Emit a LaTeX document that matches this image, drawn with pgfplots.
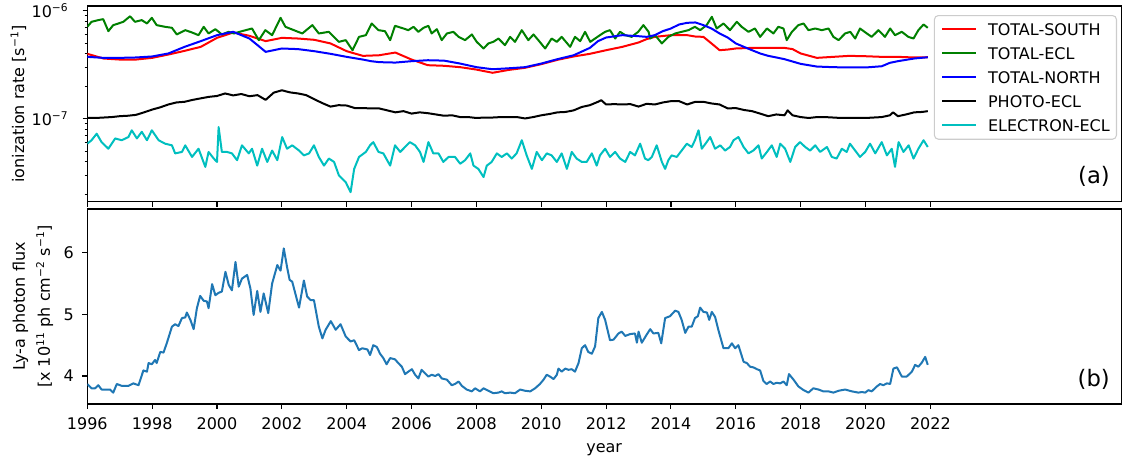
\documentclass[12pt,border=0pt]{standalone}
\usepackage{fontspec}
\setmainfont{DejaVu Sans}
\usepackage{pgfplots}
\pgfplotsset{compat=1.18}
\definecolor{mplred}{rgb}{1,0,0}
\definecolor{mplgreen}{rgb}{0,0.5,0}
\definecolor{mplblue}{rgb}{0,0,1}
\definecolor{mplcyan}{rgb}{0,0.75,0.75}
\definecolor{tabblue}{HTML}{1F77B4}
\begin{document}
\begin{tikzpicture}
\pgfplotsset{
  base/.style={scale only axis, width=775.3pt, xmin=1996, xmax=2027.88,
    tick align=outside, tick pos=left, major tick length=3.6pt, minor tick length=2.1pt,
    axis line style={line width=0.8pt}, every tick/.style={black, line width=0.8pt},
    xtick={1996,1998,...,2022},
    /pgf/number format/assume math mode=true, /pgf/number format/1000 sep={},
    xticklabel style={yshift=-2.2pt}, yticklabel style={xshift=-2.4pt},
    every axis plot/.append style={line width=1.5pt, line join=round}},
}
\begin{axis}[base, name=top, at={(0,0)}, anchor=north west, height=146.8pt,
  ymode=log, ymin=1.714e-8, ymax=1.107e-6, xticklabels={},
  ytick={1e-7,1e-6}, yticklabels={10\textsuperscript{−7},10\textsuperscript{−6}},
  yticklabel style={xshift=-4pt},
  minor ytick={2e-8,3e-8,4e-8,5e-8,6e-8,7e-8,8e-8,9e-8,2e-7,3e-7,4e-7,5e-7,6e-7,7e-7,8e-7,9e-7},
  ylabel={ionization rate [s\textsuperscript{−1}]},
  ylabel style={at={(axis description cs:-0.0667,0.5)}, anchor=center},
  legend style={at={(axis description cs:0.9961,0.954)}, anchor=north east, draw=black!20,
    rounded corners=3pt, fill=white, fill opacity=0.8, text opacity=1, line width=0.8pt,
    row sep=9.25pt, column sep=8.25pt, inner xsep=5pt, inner ysep=6pt,
    nodes={text height=8.75pt, text depth=0pt, inner ysep=0pt, inner xsep=0pt}},
  legend cell align=left,
  legend image code/.code={\draw[#1, line width=1.5pt] (0pt,0pt) -- (25.5pt,0pt);}]
\addplot[mplred] coordinates {(1996.0,4.0e-7)(1996.5,3.62e-7)(1997.0,3.54e-7)(1997.5,3.54e-7)(1998.0,3.67e-7)(1998.5,3.94e-7)(1999.0,4.26e-7)(1999.5,4.64e-7)(2000.0,5.62e-7)(2000.5,6.30e-7)(2001.0,5.87e-7)(2001.5,5.24e-7)(2002.0,5.62e-7)(2002.5,5.54e-7)(2003.0,5.39e-7)(2003.5,4.99e-7)(2004.0,4.23e-7)(2004.5,3.83e-7)(2005.0,3.88e-7)(2005.5,4.11e-7)(2006.0,3.54e-7)(2006.5,3.14e-7)(2007.0,3.10e-7)(2007.5,3.01e-7)(2008.0,2.86e-7)(2008.5,2.67e-7)(2009.0,2.84e-7)(2009.5,2.97e-7)(2010.0,3.21e-7)(2010.5,3.52e-7)(2011.0,3.78e-7)(2011.5,4.00e-7)(2012.0,4.32e-7)(2012.5,4.64e-7)(2013.0,5.09e-7)(2013.25,5.47e-7)(2013.5,5.74e-7)(2014.0,5.95e-7)(2014.5,5.95e-7)(2014.75,5.78e-7)(2015.0,5.74e-7)(2015.25,4.99e-7)(2015.5,4.32e-7)(2015.75,4.38e-7)(2016.0,4.48e-7)(2016.5,4.54e-7)(2017.0,4.54e-7)(2017.5,4.54e-7)(2017.75,4.42e-7)(2018.0,4.03e-7)(2018.5,3.67e-7)(2019.0,3.75e-7)(2019.5,3.83e-7)(2020.0,3.80e-7)(2020.5,3.75e-7)(2021.0,3.75e-7)(2021.5,3.70e-7)(2021.92,3.72e-7)};
\addlegendentry{TOTAL-SOUTH}
\addplot[mplgreen] coordinates {(1996.00,7.11e-7)(1996.13,7.91e-7)(1996.34,8.2e-7)(1996.49,8.37e-7)(1996.65,6.48e-7)(1996.80,7.37e-7)(1996.96,7.63e-7)(1997.11,7.91e-7)(1997.32,8.9e-7)(1997.47,7.91e-7)(1997.68,8.2e-7)(1997.84,7.63e-7)(1997.99,8.61e-7)(1998.14,7.37e-7)(1998.40,7.11e-7)(1998.61,6.96e-7)(1998.76,6.04e-7)(1999.02,6.62e-7)(1999.23,6.30e-7)(1999.43,5.95e-7)(1999.59,7.11e-7)(1999.74,6.17e-7)(1999.95,6.76e-7)(2000.15,6.04e-7)(2000.36,6.39e-7)(2000.52,6.17e-7)(2000.77,6.48e-7)(2001.08,6.86e-7)(2001.29,5.35e-7)(2001.49,6.62e-7)(2001.70,5.95e-7)(2001.96,8.61e-7)(2002.11,7.11e-7)(2002.37,6.62e-7)(2002.63,6.17e-7)(2002.94,7.37e-7)(2003.14,6.17e-7)(2003.45,6.39e-7)(2003.76,5.16e-7)(2003.97,5.35e-7)(2004.18,4.32e-7)(2004.38,5.74e-7)(2004.59,5.95e-7)(2004.77,7.63e-7)(2004.98,6.62e-7)(2005.18,6.48e-7)(2005.34,5.35e-7)(2005.49,7.26e-7)(2005.75,6.86e-7)(2005.90,6.62e-7)(2006.06,7.11e-7)(2006.21,6.39e-7)(2006.37,6.96e-7)(2006.52,7.26e-7)(2006.62,6.17e-7)(2006.78,6.76e-7)(2006.93,5.35e-7)(2007.09,6.17e-7)(2007.29,6.39e-7)(2007.45,5.74e-7)(2007.65,5.35e-7)(2007.86,6.04e-7)(2008.01,5.16e-7)(2008.22,4.48e-7)(2008.37,4.99e-7)(2008.52,5.16e-7)(2008.68,5.54e-7)(2008.88,4.81e-7)(2009.04,5.74e-7)(2009.19,5.16e-7)(2009.40,6.62e-7)(2009.60,5.35e-7)(2009.76,6.04e-7)(2009.91,5.35e-7)(2010.12,4.48e-7)(2010.32,5.54e-7)(2010.48,5.16e-7)(2010.63,5.74e-7)(2010.89,4.64e-7)(2011.04,5.74e-7)(2011.20,5.24e-7)(2011.35,6.39e-7)(2011.51,5.16e-7)(2011.66,5.54e-7)(2011.81,5.95e-7)(2011.97,6.39e-7)(2012.12,6.62e-7)(2012.28,5.54e-7)(2012.43,6.39e-7)(2012.59,5.95e-7)(2012.79,5.74e-7)(2012.99,6.39e-7)(2013.15,7.37e-7)(2013.31,6.39e-7)(2013.36,5.54e-7)(2013.51,5.95e-7)(2013.72,4.99e-7)(2013.92,5.74e-7)(2014.13,6.17e-7)(2014.33,6.39e-7)(2014.54,6.62e-7)(2014.74,7.11e-7)(2014.90,6.62e-7)(2015.10,7.37e-7)(2015.26,8.80e-7)(2015.41,6.86e-7)(2015.62,7.63e-7)(2015.82,6.62e-7)(2016.03,7.91e-7)(2016.18,7.11e-7)(2016.39,6.39e-7)(2016.59,6.86e-7)(2016.75,5.74e-7)(2016.96,6.86e-7)(2017.16,6.17e-7)(2017.31,7.11e-7)(2017.47,6.86e-7)(2017.57,5.35e-7)(2017.73,6.39e-7)(2017.93,7.37e-7)(2018.09,7.63e-7)(2018.24,6.62e-7)(2018.45,6.86e-7)(2018.65,6.62e-7)(2018.86,6.86e-7)(2019.01,5.74e-7)(2019.17,5.35e-7)(2019.37,6.17e-7)(2019.53,6.39e-7)(2019.68,5.54e-7)(2019.83,6.86e-7)(2020.04,6.17e-7)(2020.19,5.74e-7)(2020.40,6.62e-7)(2020.60,5.74e-7)(2020.76,6.86e-7)(2020.91,5.95e-7)(2021.12,6.39e-7)(2021.32,5.74e-7)(2021.48,5.54e-7)(2021.63,6.62e-7)(2021.79,7.47e-7)(2021.92,6.96e-7)};
\addlegendentry{TOTAL-ECL}
\addplot[mplblue] coordinates {(1996.0,3.75e-7)(1996.5,3.67e-7)(1997.0,3.67e-7)(1997.5,3.70e-7)(1998.0,3.78e-7)(1998.5,4.03e-7)(1999.0,4.64e-7)(1999.5,5.24e-7)(2000.0,5.95e-7)(2000.5,6.39e-7)(2001.0,5.54e-7)(2001.25,4.81e-7)(2001.5,4.17e-7)(2002.0,4.48e-7)(2002.5,4.42e-7)(2003.0,4.23e-7)(2003.5,4.00e-7)(2004.0,3.75e-7)(2004.5,3.54e-7)(2004.75,3.42e-7)(2005.0,3.35e-7)(2005.5,3.32e-7)(2006.0,3.42e-7)(2006.5,3.49e-7)(2007.0,3.46e-7)(2007.5,3.25e-7)(2008.0,3.01e-7)(2008.5,2.88e-7)(2009.0,2.94e-7)(2009.5,3.01e-7)(2010.0,3.25e-7)(2010.5,3.57e-7)(2011.0,3.88e-7)(2011.5,4.54e-7)(2011.75,5.24e-7)(2012.0,5.66e-7)(2012.5,5.95e-7)(2013.0,5.82e-7)(2013.25,5.74e-7)(2013.5,5.95e-7)(2013.75,6.48e-7)(2014.0,6.86e-7)(2014.25,7.47e-7)(2014.5,7.74e-7)(2014.75,7.80e-7)(2015.0,7.37e-7)(2015.25,6.86e-7)(2015.5,6.17e-7)(2015.75,5.66e-7)(2016.0,4.99e-7)(2016.25,4.64e-7)(2016.5,4.32e-7)(2016.75,4.03e-7)(2017.0,3.83e-7)(2017.25,3.70e-7)(2017.5,3.57e-7)(2018.0,3.23e-7)(2018.5,3.05e-7)(2019.0,3.01e-7)(2019.5,2.99e-7)(2020.0,2.99e-7)(2020.5,3.07e-7)(2020.75,3.30e-7)(2021.0,3.42e-7)(2021.5,3.62e-7)(2021.92,3.72e-7)};
\addlegendentry{TOTAL-NORTH}
\addplot[black] coordinates {(1996.0,1.02e-7)(1996.25,1.02e-7)(1996.5,1.03e-7)(1996.75,1.04e-7)(1997.0,1.06e-7)(1997.25,1.07e-7)(1997.5,1.09e-7)(1997.75,1.15e-7)(1998.0,1.22e-7)(1998.25,1.28e-7)(1998.5,1.36e-7)(1998.75,1.42e-7)(1999.0,1.44e-7)(1999.25,1.50e-7)(1999.5,1.55e-7)(1999.75,1.60e-7)(2000.0,1.63e-7)(2000.25,1.72e-7)(2000.5,1.65e-7)(2000.75,1.70e-7)(2001.0,1.62e-7)(2001.25,1.66e-7)(2001.5,1.50e-7)(2001.75,1.75e-7)(2002.0,1.84e-7)(2002.25,1.76e-7)(2002.5,1.72e-7)(2002.75,1.66e-7)(2003.0,1.52e-7)(2003.25,1.40e-7)(2003.5,1.30e-7)(2003.75,1.34e-7)(2004.0,1.33e-7)(2004.25,1.26e-7)(2004.5,1.26e-7)(2004.75,1.25e-7)(2005.0,1.25e-7)(2005.25,1.20e-7)(2005.5,1.15e-7)(2005.75,1.18e-7)(2006.0,1.12e-7)(2006.25,1.15e-7)(2006.5,1.13e-7)(2006.75,1.10e-7)(2007.0,1.07e-7)(2007.25,1.08e-7)(2007.5,1.04e-7)(2007.75,1.04e-7)(2008.0,1.02e-7)(2008.25,1.03e-7)(2008.5,1.03e-7)(2008.75,1.04e-7)(2009.0,1.04e-7)(2009.25,1.04e-7)(2009.5,1.01e-7)(2009.75,1.04e-7)(2010.0,1.08e-7)(2010.25,1.11e-7)(2010.5,1.15e-7)(2010.75,1.16e-7)(2011.0,1.20e-7)(2011.25,1.29e-7)(2011.5,1.34e-7)(2011.75,1.44e-7)(2011.85,1.49e-7)(2012.0,1.36e-7)(2012.25,1.37e-7)(2012.5,1.36e-7)(2012.75,1.37e-7)(2013.0,1.30e-7)(2013.25,1.38e-7)(2013.5,1.36e-7)(2013.75,1.42e-7)(2014.0,1.46e-7)(2014.25,1.46e-7)(2014.5,1.36e-7)(2014.75,1.44e-7)(2015.0,1.44e-7)(2015.25,1.39e-7)(2015.5,1.36e-7)(2015.75,1.25e-7)(2016.0,1.26e-7)(2016.25,1.21e-7)(2016.5,1.18e-7)(2016.75,1.12e-7)(2017.0,1.06e-7)(2017.25,1.10e-7)(2017.5,1.08e-7)(2017.6,1.20e-7)(2017.75,1.08e-7)(2018.0,1.04e-7)(2018.25,1.02e-7)(2018.5,1.04e-7)(2018.75,1.04e-7)(2019.0,1.03e-7)(2019.25,1.02e-7)(2019.5,1.02e-7)(2019.75,1.02e-7)(2020.0,1.02e-7)(2020.25,1.03e-7)(2020.5,1.04e-7)(2020.75,1.08e-7)(2020.85,1.15e-7)(2021.0,1.06e-7)(2021.25,1.10e-7)(2021.5,1.15e-7)(2021.75,1.16e-7)(2021.92,1.18e-7)};
\addlegendentry{PHOTO-ECL}
\addplot[mplcyan] coordinates {(1996.00,5.9e-8)(1996.13,6.35e-8)(1996.29,7.3e-8)(1996.44,6.1e-8)(1996.65,5.3e-8)(1996.86,6.6e-8)(1997.06,6.35e-8)(1997.27,6.8e-8)(1997.37,7.85e-8)(1997.53,6.6e-8)(1997.68,7.6e-8)(1997.84,6.35e-8)(1997.99,7.85e-8)(1998.20,6.35e-8)(1998.40,5.9e-8)(1998.61,5.7e-8)(1998.71,4.8e-8)(1998.92,4.95e-8)(1999.02,5.7e-8)(1999.23,4.45e-8)(1999.43,5.3e-8)(1999.64,3.6e-8)(1999.74,4.95e-8)(1999.90,4.3e-8)(2000.00,4.0e-8)(2000.05,8.4e-8)(2000.15,4.95e-8)(2000.31,4.95e-8)(2000.46,4.8e-8)(2000.62,4.15e-8)(2000.77,5.7e-8)(2000.98,4.8e-8)(2001.08,5.3e-8)(2001.24,3.7e-8)(2001.39,5.3e-8)(2001.55,4.0e-8)(2001.70,5.1e-8)(2001.86,4.15e-8)(2002.01,6.8e-8)(2002.16,5.3e-8)(2002.32,5.7e-8)(2002.53,5.1e-8)(2002.68,4.6e-8)(2002.84,4.8e-8)(2002.99,5.7e-8)(2003.14,4.45e-8)(2003.30,3.7e-8)(2003.45,4.3e-8)(2003.61,4.0e-8)(2003.76,3.0e-8)(2003.97,2.6e-8)(2004.12,2.1e-8)(2004.23,3.45e-8)(2004.38,4.45e-8)(2004.59,4.95e-8)(2004.72,5.7e-8)(2004.82,6.1e-8)(2004.98,4.95e-8)(2005.13,4.8e-8)(2005.34,3.7e-8)(2005.49,5.7e-8)(2005.65,4.95e-8)(2005.80,5.5e-8)(2005.95,6.1e-8)(2006.11,5.7e-8)(2006.26,4.95e-8)(2006.37,4.0e-8)(2006.52,6.1e-8)(2006.67,4.8e-8)(2006.83,4.8e-8)(2006.98,4.0e-8)(2007.14,4.45e-8)(2007.34,4.45e-8)(2007.50,3.85e-8)(2007.65,4.15e-8)(2007.81,4.8e-8)(2007.91,3.7e-8)(2008.06,3.45e-8)(2008.22,2.9e-8)(2008.32,3.7e-8)(2008.47,4.0e-8)(2008.63,4.8e-8)(2008.78,4.45e-8)(2008.94,4.8e-8)(2009.09,4.3e-8)(2009.24,4.8e-8)(2009.40,6.35e-8)(2009.55,4.6e-8)(2009.71,3.45e-8)(2009.86,4.95e-8)(2010.02,4.15e-8)(2010.17,4.8e-8)(2010.32,4.6e-8)(2010.48,4.0e-8)(2010.63,4.8e-8)(2010.79,3.45e-8)(2010.94,4.95e-8)(2011.09,4.3e-8)(2011.25,4.0e-8)(2011.40,4.0e-8)(2011.56,4.8e-8)(2011.71,3.7e-8)(2011.81,4.6e-8)(2011.97,5.3e-8)(2012.12,4.45e-8)(2012.28,4.95e-8)(2012.43,4.3e-8)(2012.59,4.0e-8)(2012.74,4.95e-8)(2012.89,4.6e-8)(2013.05,5.9e-8)(2013.20,4.3e-8)(2013.30,4.15e-8)(2013.41,4.45e-8)(2013.56,5.7e-8)(2013.72,4.0e-8)(2013.82,3.45e-8)(2013.92,4.15e-8)(2014.02,4.6e-8)(2014.18,4.45e-8)(2014.33,5.1e-8)(2014.49,5.9e-8)(2014.64,5.5e-8)(2014.74,6.35e-8)(2014.85,7.85e-8)(2014.95,5.3e-8)(2015.10,6.1e-8)(2015.21,6.8e-8)(2015.36,5.3e-8)(2015.52,5.7e-8)(2015.67,5.1e-8)(2015.82,5.5e-8)(2015.93,6.35e-8)(2016.08,6.8e-8)(2016.24,5.5e-8)(2016.39,4.8e-8)(2016.54,5.1e-8)(2016.70,5.7e-8)(2016.80,4.3e-8)(2016.96,4.95e-8)(2017.11,5.7e-8)(2017.26,4.45e-8)(2017.37,5.9e-8)(2017.52,5.3e-8)(2017.68,4.0e-8)(2017.83,5.5e-8)(2017.98,6.1e-8)(2018.14,5.5e-8)(2018.29,5.1e-8)(2018.45,5.7e-8)(2018.60,4.95e-8)(2018.81,5.5e-8)(2018.96,4.45e-8)(2019.11,4.3e-8)(2019.27,5.3e-8)(2019.42,4.95e-8)(2019.52,5.9e-8)(2019.68,5.1e-8)(2019.83,4.45e-8)(2019.99,4.95e-8)(2020.14,5.9e-8)(2020.30,4.8e-8)(2020.50,6.1e-8)(2020.66,4.6e-8)(2020.81,5.3e-8)(2020.91,3.6e-8)(2021.02,6.1e-8)(2021.17,4.95e-8)(2021.33,5.7e-8)(2021.48,4.3e-8)(2021.63,5.3e-8)(2021.79,6.35e-8)(2021.92,5.5e-8)};
\addlegendentry{ELECTRON-ECL}
\node[anchor=south east, inner sep=0pt, font=\fontsize{17}{20}\selectfont] at (axis description cs:0.9894,0.075) {(a)};
\end{axis}
\begin{axis}[base, name=bot, at={(0,-152.25pt)}, anchor=north west, height=146.25pt,
  ymin=3.545, ymax=6.71, ytick={4,5,6}, xticklabels={1996,1998,2000,2002,2004,2006,2008,2010,2012,2014,2016,2018,2020,2022},
  xlabel={year}, xlabel style={at={(axis description cs:0.5,0)}, anchor=center, yshift=-34.3pt},
  ylabel={Ly-a photon flux\\{}[x 10\textsuperscript{11} ph cm\textsuperscript{−2} s\textsuperscript{−1}]},
  ylabel style={at={(axis description cs:-0.0525,0.5)}, anchor=center, align=center, font=\fontsize{12}{18.75}\selectfont}]
\addplot[tabblue] coordinates {(1996.00,3.87)(1996.13,3.80)(1996.24,3.80)(1996.34,3.85)(1996.44,3.78)(1996.55,3.78)(1996.70,3.78)(1996.80,3.73)(1996.91,3.87)(1997.06,3.84)(1997.27,3.84)(1997.42,3.88)(1997.58,3.85)(1997.73,4.09)(1997.84,4.07)(1997.89,4.21)(1997.99,4.19)(1998.09,4.26)(1998.14,4.21)(1998.25,4.39)(1998.35,4.38)(1998.45,4.53)(1998.61,4.80)(1998.71,4.84)(1998.81,4.81)(1998.92,4.94)(1999.02,4.95)(1999.07,5.03)(1999.18,4.91)(1999.28,4.76)(1999.38,5.10)(1999.48,5.30)(1999.59,5.22)(1999.69,5.21)(1999.74,5.10)(1999.85,5.49)(1999.95,5.31)(2000.05,5.35)(2000.15,5.37)(2000.26,5.69)(2000.36,5.48)(2000.46,5.39)(2000.57,5.85)(2000.67,5.45)(2000.77,5.58)(2000.93,5.64)(2001.03,5.42)(2001.13,4.99)(2001.24,5.38)(2001.34,5.04)(2001.44,5.34)(2001.58,5.02)(2001.70,5.50)(2001.86,5.80)(2001.96,5.71)(2002.06,6.07)(2002.16,5.77)(2002.24,5.56)(2002.32,5.53)(2002.53,5.11)(2002.68,5.55)(2002.78,5.29)(2002.89,5.23)(2002.99,5.23)(2003.14,4.80)(2003.25,4.61)(2003.35,4.75)(2003.51,4.89)(2003.66,4.75)(2003.81,4.84)(2003.97,4.64)(2004.12,4.56)(2004.23,4.58)(2004.38,4.42)(2004.48,4.45)(2004.64,4.43)(2004.72,4.34)(2004.82,4.50)(2004.93,4.47)(2005.03,4.36)(2005.13,4.29)(2005.23,4.19)(2005.34,4.29)(2005.49,4.27)(2005.59,4.21)(2005.70,4.15)(2005.80,4.03)(2005.90,4.07)(2006.01,4.11)(2006.11,4.02)(2006.21,3.96)(2006.31,4.10)(2006.42,4.04)(2006.52,3.99)(2006.62,4.02)(2006.73,4.00)(2006.83,4.03)(2006.93,3.96)(2007.09,3.94)(2007.24,3.85)(2007.34,3.87)(2007.45,3.91)(2007.55,3.84)(2007.70,3.78)(2007.86,3.75)(2007.96,3.80)(2008.11,3.75)(2008.22,3.80)(2008.37,3.76)(2008.52,3.72)(2008.68,3.73)(2008.78,3.75)(2008.88,3.72)(2009.04,3.73)(2009.19,3.72)(2009.35,3.78)(2009.50,3.76)(2009.66,3.75)(2009.81,3.80)(2009.96,3.87)(2010.07,3.94)(2010.17,4.02)(2010.27,3.99)(2010.38,3.95)(2010.48,4.02)(2010.53,4.12)(2010.63,4.07)(2010.74,4.12)(2010.84,4.10)(2010.94,4.11)(2011.04,4.07)(2011.15,4.21)(2011.25,4.45)(2011.35,4.50)(2011.45,4.39)(2011.56,4.36)(2011.66,4.48)(2011.76,4.94)(2011.87,5.04)(2011.97,4.91)(2012.12,4.58)(2012.23,4.59)(2012.38,4.69)(2012.48,4.72)(2012.59,4.65)(2012.74,4.68)(2012.89,4.69)(2012.95,4.54)(2013.00,4.72)(2013.10,4.54)(2013.25,4.67)(2013.36,4.76)(2013.46,4.69)(2013.61,4.70)(2013.70,4.53)(2013.82,4.94)(2013.97,4.97)(2014.13,5.06)(2014.23,5.04)(2014.33,4.91)(2014.44,4.70)(2014.54,4.80)(2014.64,4.80)(2014.74,4.94)(2014.83,4.97)(2014.90,5.11)(2015.00,5.04)(2015.11,5.03)(2015.18,4.91)(2015.26,5.04)(2015.36,4.96)(2015.46,4.75)(2015.62,4.45)(2015.77,4.45)(2015.88,4.53)(2015.98,4.45)(2016.08,4.50)(2016.24,4.23)(2016.34,4.21)(2016.44,4.15)(2016.54,4.14)(2016.65,4.11)(2016.75,4.09)(2016.85,3.92)(2016.95,3.87)(2017.06,3.91)(2017.16,3.87)(2017.26,3.89)(2017.37,3.88)(2017.47,3.91)(2017.57,3.85)(2017.64,4.03)(2017.78,3.94)(2017.93,3.83)(2018.09,3.77)(2018.24,3.73)(2018.39,3.80)(2018.55,3.78)(2018.70,3.75)(2018.86,3.75)(2019.01,3.73)(2019.17,3.76)(2019.37,3.78)(2019.58,3.75)(2019.78,3.73)(2019.89,3.74)(2019.99,3.73)(2020.09,3.77)(2020.19,3.75)(2020.35,3.83)(2020.45,3.87)(2020.55,3.85)(2020.66,3.88)(2020.76,3.87)(2020.86,4.12)(2020.97,4.14)(2021.12,3.99)(2021.27,3.99)(2021.43,4.07)(2021.53,4.18)(2021.63,4.15)(2021.74,4.22)(2021.84,4.31)(2021.92,4.18)};
\node[anchor=south east, inner sep=0pt, font=\fontsize{17}{20}\selectfont] at (axis description cs:0.9894,0.072) {(b)};
\end{axis}
\pgfresetboundingbox
\path[use as bounding box] (-65.475pt,4.5pt) rectangle (776.025pt,-339pt);
\end{tikzpicture}
\end{document}
